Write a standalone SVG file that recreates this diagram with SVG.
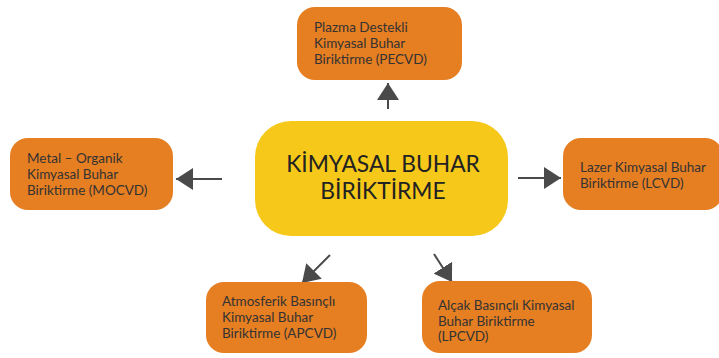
<svg xmlns="http://www.w3.org/2000/svg" width="719" height="358" viewBox="0 0 719 358">
  <style>
    .leaf { fill: #e67e22; }
    .hub { fill: #f5c819; }
    .t { font-family: Lato, "Open Sans", sans-serif; font-size: 13.5px; fill: #333333; }
    .th { font-family: Lato, "Open Sans", sans-serif; font-size: 22.8px; fill: #222222; text-anchor: middle; }
    .edge { stroke: #4a4a4a; stroke-width: 2; fill: none; }
  </style>
  <defs>
    <marker id="arrow" viewBox="0 0 17 22" refX="17" refY="11" markerWidth="17" markerHeight="22" markerUnits="userSpaceOnUse" orient="auto">
      <path d="M0,0 L17,11 L0,22 z" fill="#4a4a4a"/>
    </marker>
  </defs>
  <rect width="719" height="358" fill="#ffffff"/>

  <g id="connectors">
    <line class="edge" x1="388" y1="109" x2="388" y2="83" marker-end="url(#arrow)"/>
    <line class="edge" x1="222" y1="179" x2="176" y2="179" marker-end="url(#arrow)"/>
    <line class="edge" x1="518" y1="178" x2="561" y2="178" marker-end="url(#arrow)"/>
    <line class="edge" x1="330" y1="255" x2="302" y2="283" marker-end="url(#arrow)"/>
    <line class="edge" x1="434" y1="254" x2="452" y2="282" marker-end="url(#arrow)"/>
  </g>

  <g id="hub">
    <rect class="hub" x="255" y="121" width="253" height="115" rx="36"/>
    <text class="th" x="383" y="172">KİMYASAL BUHAR</text>
    <text class="th" x="383" y="199">BİRİKTİRME</text>
  </g>

  <g id="pecvd">
    <rect class="leaf" x="297" y="7" width="165" height="73" rx="18"/>
    <text class="t" x="314" y="32">Plazma Destekli</text>
    <text class="t" x="314" y="48">Kimyasal Buhar</text>
    <text class="t" x="314" y="64">Biriktirme (PECVD)</text>
  </g>

  <g id="mocvd">
    <rect class="leaf" x="10" y="138" width="163" height="72" rx="18"/>
    <text class="t" x="27" y="163">Metal – Organik</text>
    <text class="t" x="27" y="179">Kimyasal Buhar</text>
    <text class="t" x="27" y="195">Biriktirme (MOCVD)</text>
  </g>

  <g id="lcvd">
    <rect class="leaf" x="563" y="138" width="160" height="72" rx="18"/>
    <text class="t" x="580" y="172">Lazer Kimyasal Buhar</text>
    <text class="t" x="580" y="188">Biriktirme (LCVD)</text>
  </g>

  <g id="apcvd">
    <rect class="leaf" x="206" y="282" width="161" height="71" rx="18"/>
    <text class="t" x="222" y="306">Atmosferik Basınçlı</text>
    <text class="t" x="222" y="322">Kimyasal Buhar</text>
    <text class="t" x="222" y="338">Biriktirme (APCVD)</text>
  </g>

  <g id="lpcvd">
    <rect class="leaf" x="422" y="281" width="170" height="72" rx="18"/>
    <text class="t" x="438" y="310">Alçak Basınçlı Kimyasal</text>
    <text class="t" x="438" y="326">Buhar Biriktirme</text>
    <text class="t" x="438" y="341">(LPCVD)</text>
  </g>
</svg>
